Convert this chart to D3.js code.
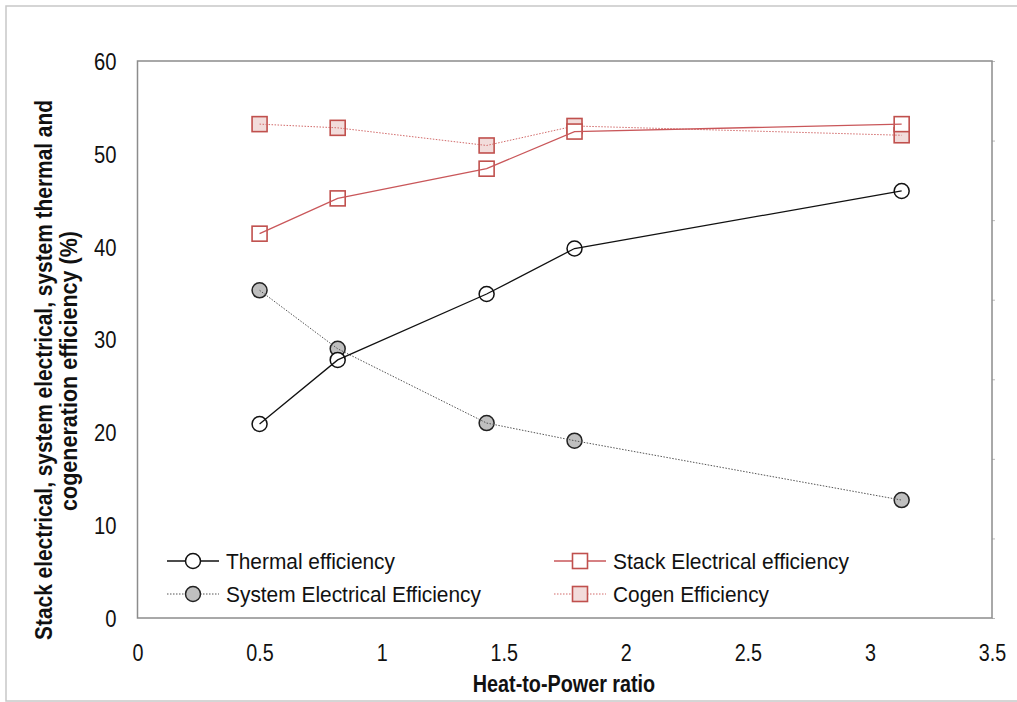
<!DOCTYPE html>
<html>
<head>
<meta charset="utf-8">
<script src="https://d3js.org/d3.v7.min.js"></script>
<style>
  body { margin: 0; background: white; }
  text { font-family: "Liberation Sans Narrow", "Arial Narrow", "Liberation Sans", Arial, sans-serif; fill: #111; }
  .tick text { font-size: 23.5px; }
  .title { font-size: 23px; font-weight: bold; }
  .legend text { font-size: 22.5px; }
</style>
</head>
<body>
<script>
// data
const heatToPower = [0.5, 0.82, 1.43, 1.79, 3.13];
const thermalEff = [20.9, 27.8, 34.9, 39.8, 46.0];
const systemElecEff = [35.3, 29.0, 21.0, 19.1, 12.7];
const stackElecEff = [41.4, 45.2, 48.4, 52.4, 53.2];
const cogenEff = [53.2, 52.8, 50.9, 53.0, 52.0];
const xTicks = [0, 0.5, 1, 1.5, 2, 2.5, 3, 3.5];
const yTicks = [0, 10, 20, 30, 40, 50, 60];

const W = 1017, H = 702;
const plotL = 137.5, plotR = 992, plotT = 61, plotB = 618;

const svg = d3.select("body").append("svg").attr("width", W).attr("height", H);

// the source uses a narrow face; squeeze the installed one to match
function condense(sel, f) {
  sel.each(function () {
    const len = this.getComputedTextLength();
    d3.select(this).attr("textLength", len * f).attr("lengthAdjust", "spacingAndGlyphs");
  });
}

// outer frame
svg.append("rect").attr("x", 6).attr("y", 6).attr("width", W + 10).attr("height", 695)
  .attr("fill", "none").attr("stroke", "#c8c8c8").attr("stroke-width", 1.5);

const x = d3.scaleLinear().domain([0, 3.5]).range([plotL, plotR]);
const y = d3.scaleLinear().domain([0, 60]).range([plotB, plotT]);
const y2 = d3.scaleLinear().domain([0, 7]).range([plotB, plotT]); // unlabelled right ticks

// axes (labels only, no tick marks)
const xAxis = svg.append("g").attr("transform", `translate(0,${plotB})`)
  .call(d3.axisBottom(x).tickValues(xTicks).tickSize(0).tickPadding(0).tickFormat(d3.format("")));
xAxis.select(".domain").remove();
xAxis.selectAll(".tick text").attr("dy", null).attr("y", 43);
condense(xAxis.selectAll(".tick text"), 0.84);

const yAxis = svg.append("g").attr("transform", `translate(${plotL},0)`)
  .call(d3.axisLeft(y).tickValues(yTicks).tickSize(0).tickPadding(21));
yAxis.select(".domain").remove();
yAxis.selectAll(".tick text").attr("dy", "0.36em");
condense(yAxis.selectAll(".tick text"), 0.86);

const rAxis = svg.append("g").attr("transform", `translate(${plotR},0)`)
  .call(d3.axisRight(y2).ticks(7).tickSize(3).tickFormat(""));
rAxis.select(".domain").remove();
rAxis.selectAll(".tick line").attr("stroke", "#bbb");

// plot frame
svg.append("rect").attr("x", plotL).attr("y", plotT).attr("width", plotR - plotL).attr("height", plotB - plotT)
  .attr("fill", "none").attr("stroke", "#8c8c8c").attr("stroke-width", 1.5);

// axis titles
const xt = svg.append("text").attr("class", "title").attr("x", 564).attr("y", 692)
  .attr("text-anchor", "middle").text("Heat-to-Power ratio");
condense(xt, 0.86);
const yt1 = svg.append("text").attr("class", "title").attr("text-anchor", "middle")
  .attr("transform", "translate(52,370) rotate(-90)")
  .text("Stack electrical, system electrical, system thermal and");
const yt2 = svg.append("text").attr("class", "title").attr("text-anchor", "middle")
  .attr("transform", "translate(77,371) rotate(-90)")
  .text("cogeneration efficiency (%)");
condense(yt1, 540 / yt1.node().getComputedTextLength());
condense(yt2, 280 / yt2.node().getComputedTextLength());

const series = [
  { name: "Thermal efficiency", vals: thermalEff, line: "#111", dash: null, lw: 1.3, shape: "circle", fill: "#fff", stroke: "#111" },
  { name: "System Electrical Efficiency", vals: systemElecEff, line: "#555", dash: "1.5,1.5", lw: 1, shape: "circle", fill: "#bfbfbf", stroke: "#222" },
  { name: "Stack Electrical efficiency", vals: stackElecEff, line: "#c9575a", dash: null, lw: 1.3, shape: "square", fill: "#fff", stroke: "#c0504d" },
  { name: "Cogen Efficiency", vals: cogenEff, line: "#d26a6a", dash: "1.5,1.5", lw: 1, shape: "square", fill: "#f2dcdb", stroke: "#c0504d" }
];

const line = d3.line().x(d => x(d[0])).y(d => y(d[1]));

function marker(g, s, cx, cy) {
  if (s.shape === "circle") {
    g.append("circle").attr("cx", cx).attr("cy", cy).attr("r", 7.5)
      .attr("fill", s.fill).attr("stroke", s.stroke).attr("stroke-width", 1.5);
  } else {
    g.append("rect").attr("x", cx - 7.5).attr("y", cy - 7.5).attr("width", 15).attr("height", 15)
      .attr("fill", s.fill).attr("stroke", s.stroke).attr("stroke-width", 1.6);
  }
}

// markers first, lines over them, like the source
const order = [3, 2, 1, 0];
order.forEach(i => {
  const s = series[i];
  const pts = heatToPower.map((h, k) => [h, s.vals[k]]);
  const g = svg.append("g");
  pts.forEach(p => marker(g, s, x(p[0]), y(p[1])));
  g.append("path").attr("d", line(pts)).attr("fill", "none")
    .attr("stroke", s.line).attr("stroke-width", s.lw).attr("stroke-dasharray", s.dash);
});

// legend
const legend = svg.append("g").attr("class", "legend");
const legPos = [[167, 561], [167, 594], [554, 561], [554, 594]];
const legW = [169, 255, 236, 156];
series.forEach((s, i) => {
  const [lx, ly] = legPos[i];
  const g = legend.append("g");
  g.append("line").attr("x1", lx).attr("x2", lx + 52).attr("y1", ly).attr("y2", ly)
    .attr("stroke", s.line).attr("stroke-width", s.lw).attr("stroke-dasharray", s.dash);
  marker(g, s, lx + 26, ly);
  const t = g.append("text").attr("x", lx + 59).attr("y", ly).attr("dy", "0.36em").text(s.name);
  condense(t, legW[i] / t.node().getComputedTextLength());
});
</script>
</body>
</html>
